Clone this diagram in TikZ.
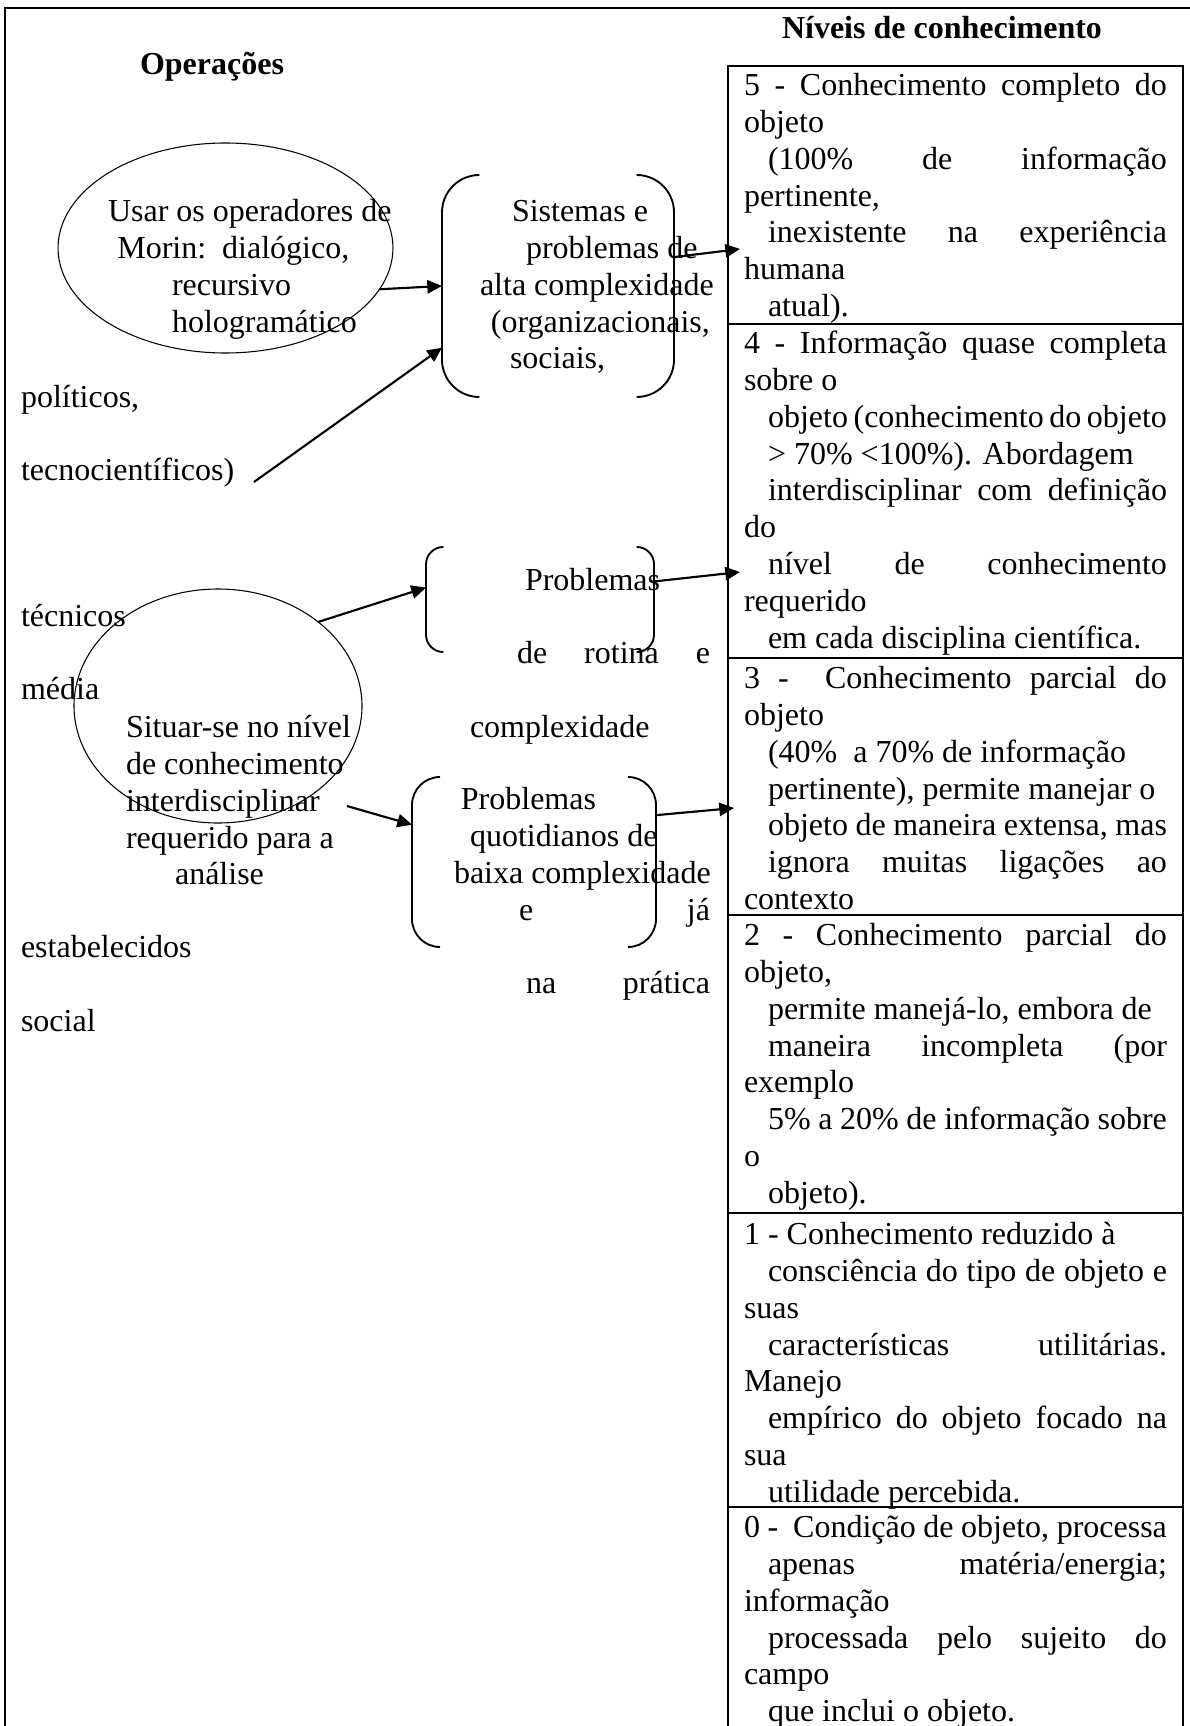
\documentclass[tikz,border=0pt]{standalone}
\usepackage{fontspec}
\setmainfont{Liberation Serif}
\usepackage{tikz}
\usetikzlibrary{shapes.geometric,arrows.meta}
\setlength{\parindent}{0pt}
\newcommand{\rs}{\spaceskip=0pt\xspaceskip=0pt\strut}
\newcommand{\jl}[1]{\makebox[\hsize][s]{#1}}
\newcommand{\ji}[1]{\hspace*{9pt}\makebox[\dimexpr\hsize-9pt\relax][s]{#1}}
\newcommand{\il}[1]{\hspace*{9pt}#1}
\newcommand{\parens}[2]{%
\draw[paren, rounded corners=#2] ([xshift=#2]#1.north west) -- (#1.north west) -- (#1.south west) -- ([xshift=#2]#1.south west);
\draw[paren, rounded corners=#2] ([xshift=-#2]#1.north east) -- (#1.north east) -- (#1.south east) -- ([xshift=-#2]#1.south east);}

\begin{document}
\begin{tikzpicture}[x=0.375pt,y=-0.375pt,
	every node/.style={inner sep=0pt,outer sep=0pt,font=\fontsize{12}{13.8}\selectfont},
	word/.style={anchor=base west},
	lines/.style={anchor=north west,text width=180pt,align=left},
	nivel/.style={anchor=north west,text width=158.6pt,align=left},
	oval/.style={ellipse,draw,line width=0.4pt},
	paren/.style={line width=0.7pt},
	tab/.style={line width=0.6pt},
	arr/.style={-{Triangle[length=5.5pt,width=5pt]},line width=0.8pt}]
\useasboundingbox (0,0) rectangle (1190,1726);
\draw[tab] (5,1740) -- (5,8) -- (1200,8);

\node[word] (ops) at (140,75) {\textbf{Operações}};
\node[word] (niv) at (782,39) {\textbf{Níveis de conhecimento}};

\draw[tab] (728,66) rectangle (1183,1740);
\foreach \y in {324,658,915,1213,1507}{
	\draw[tab] (728,\y) -- (1183,\y);
}

\node[nivel] (r5) at (744,70) {\rs\jl{5 - Conhecimento completo do}\\
objeto\\
\ji{(100\% de informação}\\
pertinente,\\
\ji{inexistente na experiência}\\
humana\\
\il{atual).}};
\node[nivel] (r4) at (744,328) {\rs\jl{4 - Informação quase completa}\\
sobre o\\
\ji{objeto (conhecimento do objeto}\\
\il{> 70\% <100\%). Abordagem}\\
\ji{interdisciplinar com definição}\\
do\\
\ji{nível de conhecimento}\\
requerido\\
\il{em cada disciplina científica.}};
\node[nivel] (r3) at (744,663) {\rs\jl{3 -\ \ Conhecimento parcial do}\\
objeto\\
\il{(40\%\ \ a 70\% de informação}\\
\il{pertinente), permite manejar o}\\
\ji{objeto de maneira extensa, mas}\\
\ji{ignora muitas ligações ao}\\
contexto};
\node[nivel] (r2) at (744,920) {\rs\jl{2 - Conhecimento parcial do}\\
objeto,\\
\il{permite manejá-lo, embora de}\\
\ji{maneira incompleta (por}\\
exemplo\\
\ji{5\% a 20\% de informação sobre}\\
o\\
\il{objeto).}};
\node[nivel] (r1) at (744,1219) {\rs 1 - Conhecimento reduzido à\\
\ji{consciência do tipo de objeto e}\\
suas\\
\ji{características utilitárias.}\\
Manejo\\
\ji{empírico do objeto focado na}\\
sua\\
\il{utilidade percebida.}};
\node[nivel] (r0) at (744,1512) {\rs\jl{0 -\ \ Condição de objeto, processa}\\
\ji{apenas matéria/energia;}\\
informação\\
\ji{processada pelo sujeito do}\\
campo\\
\il{que inclui o objeto.}};

\node[oval,minimum width=125.6pt,minimum height=78.75pt] (e1) at (225.5,248) {};
\node[oval,minimum width=108pt,minimum height=87.75pt] (e2) at (218,706) {};
\node[minimum width=87pt,minimum height=83.25pt] (b1) at (558,286) {};
\node[minimum width=85.5pt,minimum height=39.4pt] (b2) at (540,599.5) {};
\node[minimum width=91.5pt,minimum height=63.75pt] (b3) at (534,862) {};
\parens{b1}{14pt}
\parens{b2}{6.5pt}
\parens{b3}{10.5pt}

\node[lines] (usar) at (108,196) {\rs Usar os operadores de\\
\hspace*{3.5pt}Morin:\ \ dialógico,\\
\hspace*{24pt}recursivo\\
\hspace*{24pt}hologramático};
\node[lines] (situar) at (126,712) {\rs Situar-se no nível\\
de conhecimento\\
interdisciplinar\\
requerido para a\\
\hspace*{18.4pt}análise};
\node[lines] (sis) at (480,196) {\rs\hspace*{12pt}Sistemas e\\
\hspace*{17.25pt}problemas de\\
alta complexidade\\
\hspace*{4.1pt}(organizacionais,\\
\hspace*{11.25pt}sociais,};
\node[word] (prob) at (525,590) {Problemas};
\node[word] (rot) at (517,663) {\makebox[72.4pt][s]{de rotina e}};
\node[word] (cpx) at (470,737) {complexidade};
\node[lines] (quot) at (454,784) {\rs\hspace*{2.6pt}Problemas\\
\hspace*{6pt}quotidianos de\\
baixa complexidade\\
\hspace*{24.4pt}\makebox[71.6pt][s]{e já}};
\node[word] (prat) at (526,993) {\makebox[69pt][s]{na prática}};

\node[word] (pol) at (21,407) {políticos,};
\node[word] (tec) at (21,480) {tecnocientíficos)};
\node[word] (tcn) at (21,626) {técnicos};
\node[word] (med) at (21,699) {média};
\node[word] (est) at (21,957) {estabelecidos};
\node[word] (soc) at (21,1031) {social};

\coordinate (c1) at (254,482);
\coordinate (c2) at (347,806);
\coordinate (p5) at (740,249);
\coordinate (p4) at (740,572);
\coordinate (p3) at (734,808);
\draw[arr] (e1.-15) -- (b1.west);
\draw[arr] (c1) -- (b1.208);
\draw[arr] (b1.14) -- (p5);
\draw[arr] (e2.40) -- (b2.174);
\draw[arr] (c2) -- (b3.163);
\draw[arr] (b2.9) -- (p4);
\draw[arr] (b3.21) -- (p3);
\end{tikzpicture}
\end{document}
